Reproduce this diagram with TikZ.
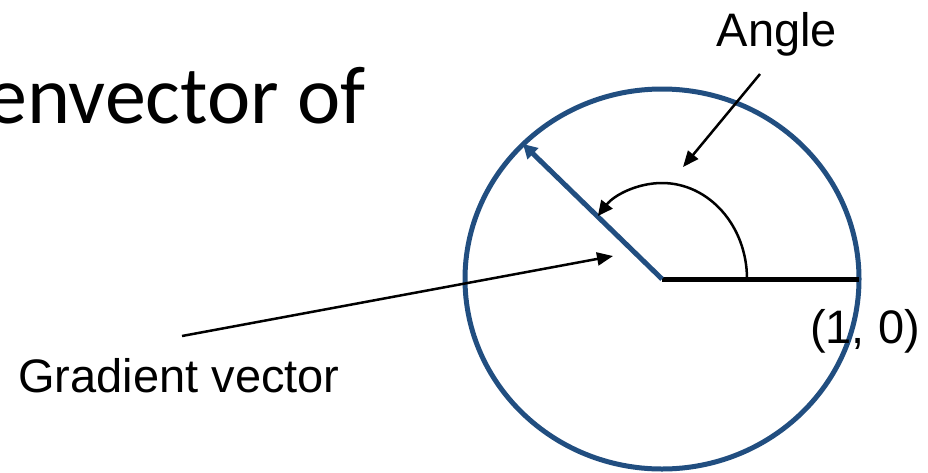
\documentclass[tikz,border=0pt]{standalone}
\usepackage{fontspec}
\setmainfont{Liberation Sans}
\newfontfamily\titlefont{Carlito}
\usetikzlibrary{arrows.meta}

\definecolor{circblue}{RGB}{33,78,128}

\begin{document}
\begin{tikzpicture}[x=1pt,y=-1pt,
    lbl/.style={font=\fontsize{47}{56}\selectfont, inner sep=0pt},
    pointer/.style={line width=2.5pt, -{Triangle[length=16pt,width=13pt]}},
    vecline/.style={line width=5pt, circblue, -{Triangle[length=14pt,width=15pt]}}]
  \useasboundingbox (0,0) rectangle (928,472);
  % slide title, cut at the left edge
  \node[font=\titlefont\fontsize{82}{96}\selectfont, inner sep=0pt, anchor=base east]
    (title) at (366,123) {envector of};
  % unit circle
  \coordinate (o) at (662,279);
  \draw[circblue, line width=5pt] (o) ellipse [x radius=197, y radius=190];
  % axis to (1,0)
  \coordinate (e1) at (859,279);
  \draw[line width=5pt] (o) -- (e1);
  \node[lbl, anchor=base] (one) at (865,343) {(1, 0)};
  % gradient vector
  \coordinate (gtip) at (523,144);
  \draw[vecline] (o) -- (gtip);
  % angle arc
  \draw[line width=2.5pt, -{Triangle[length=15pt,width=14pt]}]
    (747,279) arc[start angle=0, end angle=-139, x radius=85, y radius=96];
  % labels with pointers
  \node[lbl, anchor=base] (angle) at (777,46) {Angle};
  \coordinate (angtail) at (760,74);
  \coordinate (angtip) at (683,167);
  \draw[pointer] (angtail) -- (angtip);
  \node[lbl, anchor=base] (grad) at (179,392) {Gradient vector};
  \coordinate (gradtail) at (182,336);
  \coordinate (gradtip) at (613,256);
  \draw[pointer] (gradtail) -- (gradtip);
\end{tikzpicture}
\end{document}
